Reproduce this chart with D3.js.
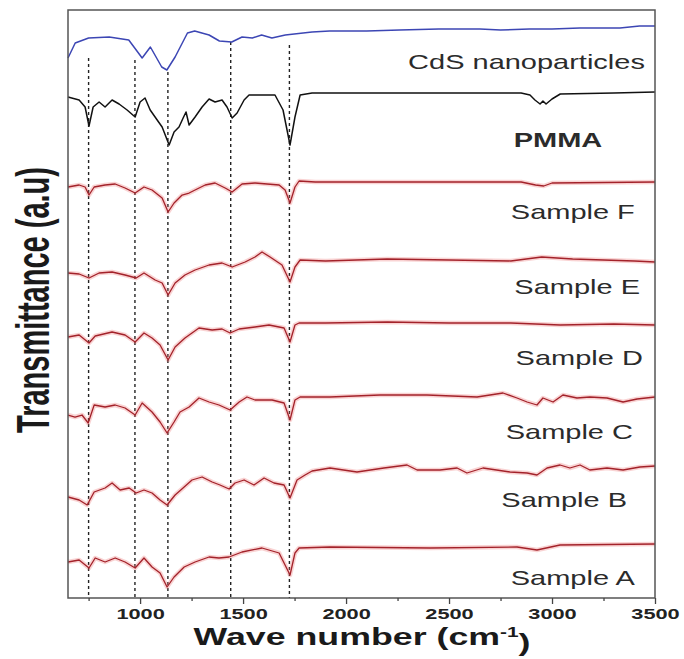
<!DOCTYPE html>
<html>
<head>
<meta charset="utf-8">
<script src="https://cdn.jsdelivr.net/npm/d3@7"></script>
<style>
  html, body { margin: 0; padding: 0; background: #fff; }
  svg { display: block; font-family: "Liberation Sans", Arial, sans-serif; }
  .tick line { stroke: #444; stroke-width: 1.3; }
</style>
</head>
<body>
<svg id="chart" width="684" height="659"></svg>
<script>
// Tick values and the dashed reference lines (wave number, cm-1)
const waveTicks = [1000, 1500, 2000, 2500, 3000, 3500];
const minorTicks = [750, 1250, 1750, 2250, 2750, 3250];
const peakLines = [750, 975, 1135, 1440, 1725];
const peakTops = [54.0, 53.8, 52.6, 55.6, 55.3];

// Stacked spectra, [wave number, transmittance (a.u.)]
const cdsSpectrum = [[650,54.0],[685,55.5],[750,56.0],[850,56.1],[945,55.8],[1010,54.0],[1050,55.1],[1105,53.1],[1130,52.8],[1170,54.1],[1230,56.5],[1265,56.7],[1335,56.3],[1385,55.7],[1445,55.6],[1495,56.1],[1545,56.0],[1590,56.3],[1640,56.0],[1705,56.3],[1835,56.6],[1920,56.7],[2100,56.7],[2260,56.8],[2450,56.9],[2650,56.9],[2750,56.8],[2890,56.9],[3000,56.9],[3135,57.0],[3330,57.0],[3425,57.2],[3500,57.2]];

const pmmaSpectrum = [[650,50.1],[704,49.8],[733,49.1],[752,47.2],[772,49.1],[801,49.6],[830,49.1],[864,49.8],[898,49.4],[937,48.8],[976,48.1],[1000,49.6],[1024,50.0],[1049,48.8],[1083,47.8],[1107,47.1],[1141,45.3],[1165,46.6],[1189,47.1],[1209,48.0],[1223,48.6],[1238,47.3],[1267,48.1],[1301,49.1],[1335,49.9],[1364,49.6],[1398,49.8],[1422,49.1],[1447,48.0],[1471,48.5],[1505,49.8],[1529,50.3],[1655,50.3],[1694,48.8],[1728,45.3],[1752,48.1],[1777,50.3],[1835,50.5],[2850,50.5],[2893,50.3],[2917,49.8],[2942,49.4],[2956,49.7],[2971,49.4],[3000,49.9],[3040,50.4],[3300,50.5],[3500,50.6]];

const sampleF = [[650,41.1],[704,41.3],[733,41.1],[752,40.3],[777,41.1],[830,41.3],[879,41.4],[927,41.0],[976,40.5],[1019,41.1],[1058,40.8],[1107,40.0],[1136,38.6],[1165,39.5],[1204,40.3],[1238,40.5],[1267,40.8],[1316,41.3],[1364,41.5],[1413,41.0],[1447,40.6],[1495,41.4],[1558,41.5],[1675,41.3],[1704,40.8],[1728,39.5],[1752,41.1],[1772,41.7],[1850,41.6],[2400,41.6],[2850,41.6],[2920,41.3],[2960,41.2],[3000,41.5],[3500,41.6]];

const sampleE = [[650,32.5],[704,32.4],[752,32.0],[801,32.5],[864,32.6],[927,32.3],[981,32.0],[1019,32.5],[1073,31.8],[1107,31.5],[1136,30.3],[1170,31.5],[1218,32.3],[1267,32.8],[1335,33.3],[1398,33.5],[1447,33.1],[1510,33.6],[1558,34.1],[1592,34.6],[1631,34.1],[1689,33.3],[1728,31.6],[1752,33.1],[1777,33.8],[1900,33.7],[2200,33.9],[2500,33.8],[2800,33.7],[2950,34.1],[3100,33.9],[3400,33.7],[3500,33.6]];

const sampleD = [[650,26.1],[704,26.3],[752,25.5],[782,26.2],[864,26.6],[927,26.3],[976,25.6],[1019,26.5],[1058,26.0],[1097,25.3],[1136,23.8],[1170,25.1],[1218,26.0],[1286,27.0],[1350,26.8],[1398,26.9],[1437,26.5],[1481,26.9],[1558,27.1],[1626,27.3],[1699,27.0],[1728,25.6],[1752,27.3],[1772,27.5],[1900,27.5],[2200,27.6],[2500,27.5],[2800,27.5],[3040,27.3],[3300,27.4],[3500,27.3]];

const sampleC = [[650,18.3],[684,18.1],[718,18.3],[748,17.5],[777,19.3],[830,19.1],[879,19.3],[927,19.0],[976,18.3],[1010,19.5],[1058,18.6],[1097,17.6],[1131,16.5],[1165,17.6],[1194,18.6],[1238,19.1],[1286,20.0],[1335,19.6],[1383,19.3],[1437,18.8],[1481,19.6],[1519,20.1],[1558,19.8],[1641,19.8],[1699,19.5],[1728,17.8],[1752,19.8],[1777,20.1],[1922,20.1],[2165,20.3],[2393,20.3],[2636,20.1],[2762,20.5],[2830,20.0],[2879,19.6],[2927,19.3],[2956,20.0],[3005,19.6],[3053,20.3],[3121,20.0],[3184,20.1],[3267,20.0],[3345,19.6],[3413,19.9],[3500,20.1]];

const sampleB = [[650,10.1],[704,9.8],[743,9.3],[777,10.6],[830,11.0],[864,11.5],[903,10.8],[947,11.0],[981,10.5],[1019,10.8],[1058,10.5],[1097,9.8],[1131,9.3],[1170,10.3],[1214,11.1],[1252,11.8],[1301,12.1],[1350,11.6],[1388,11.3],[1432,10.9],[1461,11.5],[1505,11.8],[1553,11.3],[1602,12.0],[1650,11.5],[1699,11.3],[1728,10.0],[1762,11.8],[1801,12.3],[1835,12.7],[1922,13.0],[2053,12.6],[2184,13.0],[2296,13.3],[2345,12.8],[2456,12.8],[2539,13.0],[2587,12.5],[2665,13.0],[2796,12.6],[2879,12.5],[2927,12.3],[2976,13.0],[3039,13.3],[3087,13.0],[3136,13.3],[3184,12.8],[3267,13.0],[3345,12.8],[3427,13.1],[3500,13.2]];

const sampleA = [[650,3.6],[704,3.8],[752,3.0],[782,4.0],[830,3.6],[879,4.0],[927,3.6],[976,3.0],[1019,4.0],[1058,3.1],[1097,2.5],[1131,1.1],[1165,2.1],[1214,3.1],[1267,3.6],[1335,4.1],[1383,4.0],[1432,4.1],[1495,4.6],[1592,5.0],[1675,4.5],[1728,2.3],[1752,4.5],[1772,5.0],[1922,5.1],[2408,5.0],[2830,5.1],[2927,4.8],[3039,5.3],[3500,5.4]];

// Trace names and where their labels sit (wave number, a.u.)
const traceNames = ["CdS nanoparticles", "PMMA", "Sample F", "Sample E", "Sample D", "Sample C", "Sample B", "Sample A"];
const labelWave = [3451, 3029, 3402, 3427, 3441, 3393, 3364, 3402];
const labelLevel = [53.6, 45.8, 38.6, 31.1, 24.0, 16.6, 9.8, 2.0];

const svg = d3.select("#chart"),
    margin = { top: 10, right: 29, bottom: 61, left: 68 },
    width = +svg.attr("width") - margin.left - margin.right,
    height = +svg.attr("height") - margin.top - margin.bottom,
    g = svg.append("g").attr("transform", `translate(${margin.left},${margin.top})`);

const x = d3.scaleLinear().domain([650, 3500]).range([0, width]);
const y = d3.scaleLinear().domain([0, 58.8]).range([height, 0]);

const line = d3.line()
    .x(d => x(d[0]))
    .y(d => y(d[1]));

// Dashed peak markers
g.selectAll(".peak")
    .data(peakLines)
    .enter().append("line")
    .attr("class", "peak")
    .attr("x1", d => x(d))
    .attr("x2", d => x(d))
    .attr("y1", (d, i) => y(peakTops[i]))
    .attr("y2", height)
    .style("stroke", "#222")
    .style("stroke-width", 1.4)
    .style("stroke-dasharray", "3,3");

const red = "#a3222a", redGlow = "rgba(235,110,110,0.3)";
const traces = [
    { data: cdsSpectrum, color: "#3c46b4", glow: null },
    { data: pmmaSpectrum, color: "#111", glow: null },
    { data: sampleF, color: red, glow: redGlow },
    { data: sampleE, color: red, glow: redGlow },
    { data: sampleD, color: red, glow: redGlow },
    { data: sampleC, color: red, glow: redGlow },
    { data: sampleB, color: red, glow: redGlow },
    { data: sampleA, color: red, glow: redGlow }
];

traces.forEach(t => {
    if (t.glow) {
        g.append("path")
            .datum(t.data)
            .attr("d", line)
            .style("fill", "none")
            .style("stroke", t.glow)
            .style("stroke-width", 4.5)
            .style("stroke-linejoin", "round");
    }
    g.append("path")
        .datum(t.data)
        .attr("d", line)
        .style("fill", "none")
        .style("stroke", t.color)
        .style("stroke-width", t.glow ? 1.3 : 1.5)
        .style("stroke-linejoin", "round");
});

// Trace labels (the figure is stretched horizontally)
g.selectAll(".trace-label")
    .data(traceNames)
    .enter().append("text")
    .attr("class", "trace-label")
    .attr("transform", (d, i) => `translate(${x(labelWave[i])},${y(labelLevel[i])}) scale(1.45,1)`)
    .attr("dy", "0.36em")
    .attr("text-anchor", (d, i) => i === 1 ? "middle" : "end")
    .style("font-size", "20px")
    .style("fill", "#2b2b2b")
    .style("font-weight", (d, i) => i === 1 ? "bold" : "normal")
    .text(d => d);

// Frame
g.append("rect")
    .attr("width", width)
    .attr("height", height)
    .style("fill", "none")
    .style("stroke", "#555")
    .style("stroke-width", 1.5);

// X axis: minor then major ticks
const minorAxis = g.append("g")
    .attr("transform", `translate(0,${height})`)
    .call(d3.axisBottom(x).tickValues(minorTicks).tickSize(3).tickFormat(""));
minorAxis.select(".domain").remove();

const xAxis = g.append("g")
    .attr("class", "axis axis--x")
    .attr("transform", `translate(0,${height})`)
    .call(d3.axisBottom(x).tickValues(waveTicks).tickSize(6).tickPadding(5).tickFormat(d3.format("d")))
    .attr("font-family", "'Liberation Sans', Arial, sans-serif")
    .attr("font-size", 14.5)
    .attr("font-weight", "bold");
xAxis.select(".domain").remove();
xAxis.selectAll(".tick text")
    .attr("transform", "scale(1.5,1)")
    .attr("fill", "#222");

// Axis titles
const xTitle = svg.append("text")
    .attr("transform", "translate(362,645) scale(1.49,1)")
    .attr("text-anchor", "middle")
    .style("font-size", "24px")
    .style("font-weight", "bold")
    .style("fill", "#1a1a1a");
xTitle.append("tspan").text("Wave number (cm");
xTitle.append("tspan").attr("dy", "-0.55em").style("font-size", "14px").text("-1");
xTitle.append("tspan").attr("dy", "0.55em").text(")");

svg.append("text")
    .attr("transform", "translate(32,300) rotate(-90) scale(1,1.6)")
    .attr("text-anchor", "middle")
    .attr("dy", "0.36em")
    .style("font-size", "29px")
    .style("font-weight", "bold")
    .style("fill", "#1a1a1a")
    .text("Transmittance (a.u)");
</script>
</body>
</html>
